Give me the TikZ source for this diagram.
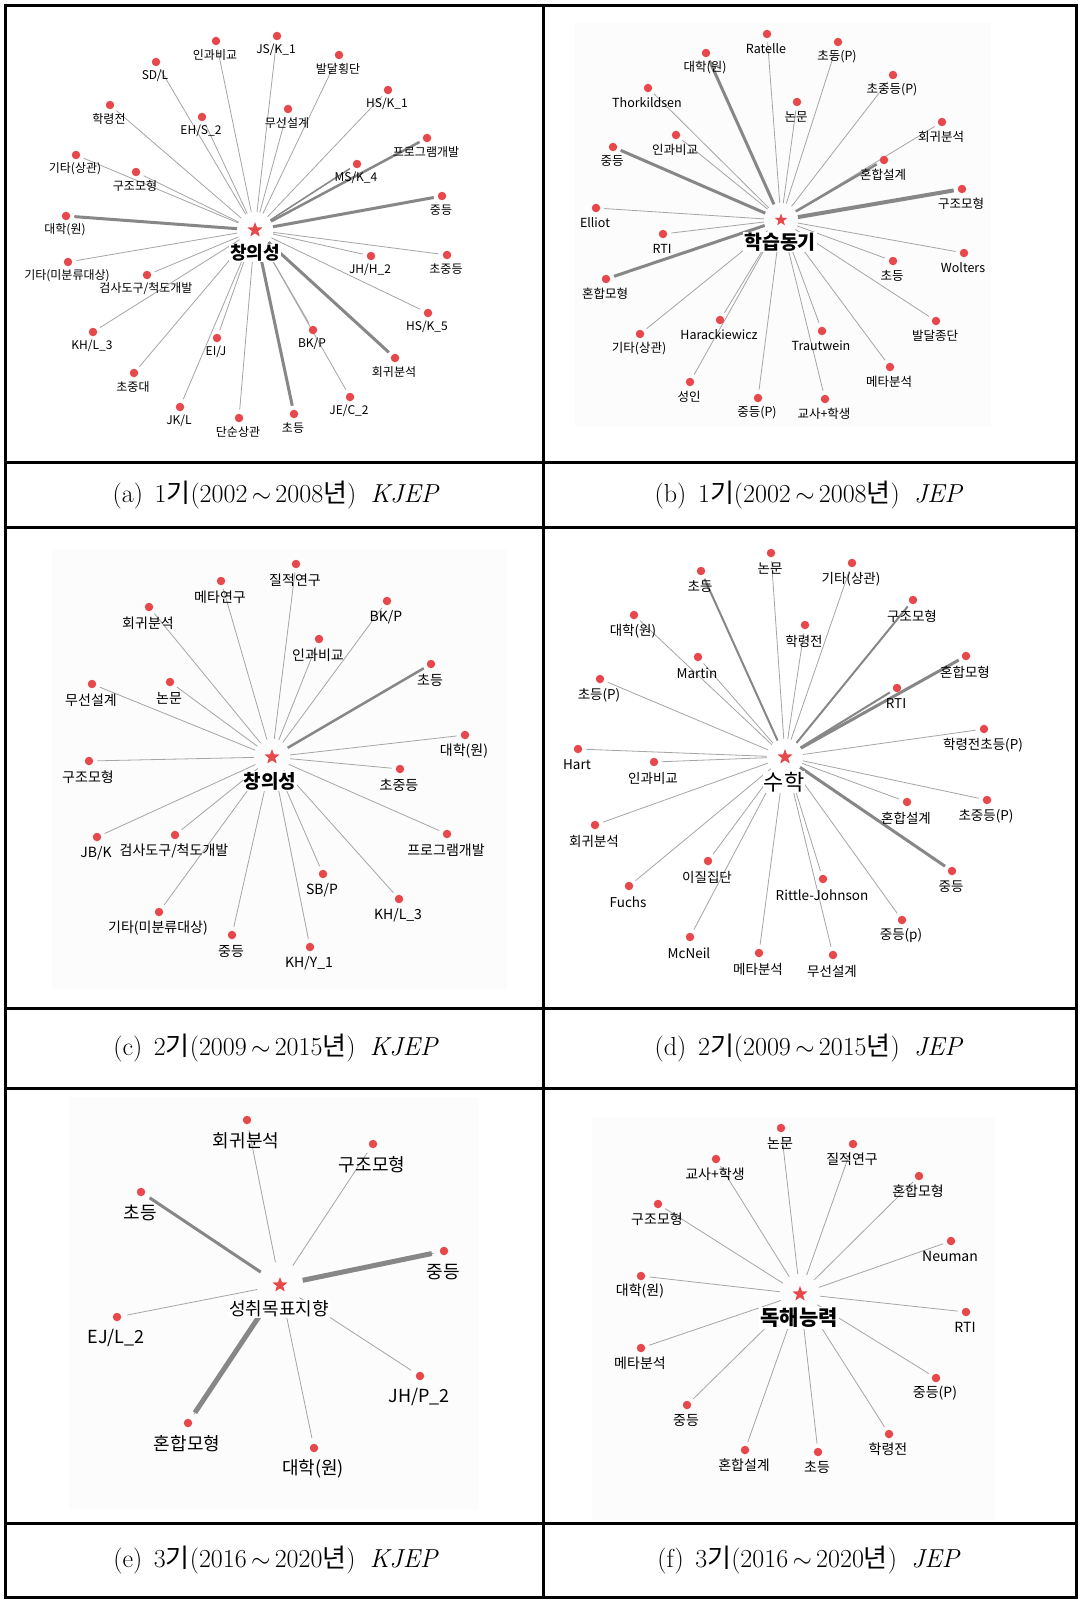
\documentclass[tikz,border=0pt]{standalone}
\usepackage{fontspec}
\newfontfamily\kr{Noto Sans CJK KR}
\usetikzlibrary{shapes.geometric,calc}
\definecolor{dotred}{RGB}{230,72,76}
\definecolor{edgegray}{RGB}{165,165,165}
\definecolor{heavygray}{RGB}{135,135,135}
\definecolor{panelbg}{RGB}{252,252,252}
\pgfdeclarelayer{panels}
\pgfdeclarelayer{edges}
\pgfsetlayers{panels,edges,main}

\tikzset{
  leafdot/.style={circle, fill=dotred, minimum size=8.5pt, inner sep=0pt},
  hubstar/.style={star, star points=5, star point ratio=2.4, fill=dotred, minimum size=16pt, inner sep=0pt},
  hubc/.style={circle, minimum size=#1, inner sep=0pt},
  hubc/.default=36pt,
  lbl/.style={font=\kr\fontsize{12}{14}\selectfont, inner sep=0pt},
  ctr/.style={font=\kr\bfseries\fontsize{18}{20}\selectfont, fill=white, inner sep=1pt},
  lnk/.style={draw=edgegray, line width=0.8pt, shorten >=4pt},
  hvy/.style={draw=heavygray, line width=#1, shorten >=4pt},
  gridline/.style={line width=3pt},
  capfont/.style={font=\fontsize{26}{28}\selectfont},
}
% leaf node: name, x, y, text
\newcommand\leaf[4]{%
  \node[leafdot] (#1) at (#2,#3) {};
  \node[lbl] (#1t) at (#2-1,#3+\labdy) {#4};}
% caption text: letter, period digit, years, journal
\newcommand\captext[4]{(#1)\hspace{0.45em}#2{\kr 기}(#3{\kr 년})\hspace{0.55em}\textit{#4}}

\begin{document}
\begin{tikzpicture}[x=1pt,y=-1pt]
\useasboundingbox (0,0) rectangle (1080,1600);

% page and faint plot backgrounds
\begin{pgfonlayer}{panels}
  \fill[white] (0,0) rectangle (1080,1600);
  \fill[panelbg] (575,23) rectangle (991,427);
  \fill[panelbg] (52,550) rectangle (507,990);
  \fill[panelbg] (69,1097) rectangle (479,1510);
  \fill[panelbg] (592,1117) rectangle (995,1520);
\end{pgfonlayer}

% ---------- (a) ----------
\begin{scope}
\def\labdy{14}
\node[hubc] (a0) at (255,230) {};
\node[hubstar] (a0s) at (255,230) {};
\node[ctr] (a0t) at (255,253) {창의성};
\leaf{a1}{216}{41}{인과비교}
\leaf{a2}{277}{36}{JS/K\_1}
\leaf{a3}{156}{62}{SD/L}
\leaf{a4}{339}{55}{발달횡단}
\leaf{a5}{388}{90}{HS/K\_1}
\leaf{a6}{110}{105}{학령전}
\leaf{a7}{202}{117}{EH/S\_2}
\leaf{a8}{288}{109}{무선설계}
\leaf{a9}{427}{138}{프로그램개발}
\leaf{a10}{76}{155}{기타(상관)}
\leaf{a11}{136}{172}{구조모형}
\leaf{a12}{357}{164}{MS/K\_4}
\leaf{a13}{442}{196}{중등}
\leaf{a14}{66}{216}{대학(원)}
\leaf{a15}{68}{262}{기타(미분류대상)}
\leaf{a16}{147}{275}{검사도구/척도개발}
\leaf{a17}{371}{256}{JH/H\_2}
\leaf{a18}{447}{255}{초중등}
\leaf{a19}{428}{313}{HS/K\_5}
\leaf{a20}{93}{332}{KH/L\_3}
\leaf{a21}{313}{330}{BK/P}
\leaf{a22}{217}{338}{EI/J}
\leaf{a23}{395}{358}{회귀분석}
\leaf{a24}{134}{373}{초중대}
\leaf{a25}{350}{397}{JE/C\_2}
\leaf{a26}{180}{407}{JK/L}
\leaf{a27}{239}{418}{단순상관}
\leaf{a28}{294}{414}{초등}
\begin{pgfonlayer}{edges}
  \foreach \i in {1,...,28} \draw[lnk] (a0) -- (a\i);
  \draw[hvy=3pt] (a0) -- (a14);
  \draw[hvy=3pt] (a0) -- (a13);
  \draw[hvy=2.5pt] (a0) -- (a9);
  \draw[hvy=1.5pt] (a0) -- (a12);
  \draw[hvy=3pt] (a0) -- (a28);
  \draw[hvy=3pt] (a0) -- (a23);
\end{pgfonlayer}
\end{scope}

% ---------- (b) ----------
\begin{scope}[lbl/.style={font=\kr\fontsize{12.5}{14}\selectfont, inner sep=0pt}]
\def\labdy{14.5}
\node[hubc=34pt] (b0) at (781,220) {};
\node[hubstar, minimum size=13pt] (b0s) at (781,220) {};
\node[ctr, font=\kr\bfseries\fontsize{19.5}{22}\selectfont] (b0t) at (780,242) {학습동기};
\leaf{b1}{767}{34}{Ratelle}
\leaf{b2}{838}{42}{초등(P)}
\leaf{b3}{706}{53}{대학(원)}
\leaf{b4}{893}{75}{초중등(P)}
\leaf{b5}{648}{88}{Thorkildsen}
\leaf{b6}{797}{102}{논문}
\leaf{b7}{942}{122}{회귀분석}
\leaf{b8}{676}{135}{인과비교}
\leaf{b9}{613}{147}{중등}
\leaf{b10}{884}{160}{혼합설계}
\leaf{b11}{962}{189}{구조모형}
\leaf{b12}{596}{208}{Elliot}
\leaf{b13}{663}{234}{RTI}
\leaf{b14}{606}{279}{혼합모형}
\leaf{b15}{964}{253}{Wolters}
\leaf{b16}{893}{261}{초등}
\leaf{b17}{936}{321}{발달종단}
\leaf{b18}{640}{334}{기타(상관)}
\leaf{b19}{720}{320}{Harackiewicz}
\leaf{b20}{822}{331}{Trautwein}
\leaf{b21}{890}{367}{메타분석}
\leaf{b22}{690}{382}{성인}
\leaf{b23}{758}{398}{중등(P)}
\leaf{b24}{825}{399}{교사+학생}
\begin{pgfonlayer}{edges}
  \foreach \i in {1,...,24} \draw[lnk] (b0) -- (b\i);
  \draw[hvy=4pt] (b0) -- (b11);
  \draw[hvy=3pt] (b0) -- (b3);
  \draw[hvy=3pt] (b0) -- (b9);
  \draw[hvy=3pt] (b0) -- (b14);
  \draw[hvy=2.5pt] (b0) -- (b10);
\end{pgfonlayer}
\end{scope}

% ---------- (c) ----------
\begin{scope}[lbl/.style={font=\kr\fontsize{14}{16}\selectfont, inner sep=0pt}]
\def\labdy{16}
\node[hubc] (c0) at (272,757) {};
\node[hubstar] (c0s) at (272,757) {};
\node[ctr, font=\kr\bfseries\fontsize{19}{22}\selectfont] (c0t) at (270,781) {창의성};
\leaf{c1}{296}{564}{질적연구}
\leaf{c2}{221}{581}{메타연구}
\leaf{c3}{149}{607}{회귀분석}
\leaf{c4}{387}{601}{BK/P}
\leaf{c5}{319}{639}{인과비교}
\leaf{c6}{431}{664}{초등}
\leaf{c7}{92}{684}{무선설계}
\leaf{c8}{170}{682}{논문}
\leaf{c9}{89}{761}{구조모형}
\leaf{c10}{465}{735}{대학(원)}
\leaf{c11}{400}{769}{초중등}
\leaf{c12}{97}{837}{JB/K}
\leaf{c13}{175}{835}{검사도구/척도개발}
\leaf{c14}{447}{834}{프로그램개발}
\leaf{c15}{323}{874}{SB/P}
\leaf{c16}{399}{899}{KH/L\_3}
\leaf{c17}{159}{912}{기타(미분류대상)}
\leaf{c18}{232}{935}{중등}
\leaf{c19}{310}{947}{KH/Y\_1}
\begin{pgfonlayer}{edges}
  \foreach \i in {1,...,19} \draw[lnk] (c0) -- (c\i);
  \draw[hvy=2.5pt] (c0) -- (c6);
\end{pgfonlayer}
\end{scope}

% ---------- (d) ----------
\begin{scope}[lbl/.style={font=\kr\fontsize{13.5}{16}\selectfont, inner sep=0pt}]
\def\labdy{16}
\node[hubc] (d0) at (785,757) {};
\node[hubstar] (d0s) at (785,757) {};
\node[ctr, font=\kr\fontsize{22}{24}\selectfont] (d0t) at (784,782) {수학};
\leaf{d1}{771}{553}{논문}
\leaf{d2}{701}{571}{초등}
\leaf{d3}{852}{563}{기타(상관)}
\leaf{d4}{913}{600}{구조모형}
\leaf{d5}{634}{615}{대학(원)}
\leaf{d6}{805}{625}{학령전}
\leaf{d7}{698}{657}{Martin}
\leaf{d8}{966}{656}{혼합모형}
\leaf{d9}{600}{679}{초등(P)}
\leaf{d10}{897}{688}{RTI}
\leaf{d11}{984}{729}{학령전초등(P)}
\leaf{d12}{578}{749}{Hart}
\leaf{d13}{654}{762}{인과비교}
\leaf{d14}{907}{802}{혼합설계}
\leaf{d15}{987}{800}{초중등(P)}
\leaf{d16}{595}{825}{회귀분석}
\leaf{d17}{708}{861}{이질집단}
\leaf{d18}{952}{871}{중등}
\leaf{d19}{823}{879}{Rittle-Johnson}
\leaf{d20}{629}{886}{Fuchs}
\leaf{d21}{902}{920}{중등(p)}
\leaf{d22}{690}{937}{McNeil}
\leaf{d23}{759}{953}{메타분석}
\leaf{d24}{833}{955}{무선설계}
\begin{pgfonlayer}{edges}
  \foreach \i in {1,...,24} \draw[lnk] (d0) -- (d\i);
  \draw[hvy=2pt] (d0) -- (d2);
  \draw[hvy=2pt] (d0) -- (d4);
  \draw[hvy=3pt] (d0) -- (d8);
  \draw[hvy=2pt] (d0) -- (d10);
  \draw[hvy=3pt] (d0) -- (d18);
\end{pgfonlayer}
\end{scope}

% ---------- (e) ----------
\begin{scope}[lbl/.style={font=\kr\fontsize{18}{20}\selectfont, inner sep=0pt}]
\def\labdy{21}
\node[hubc=46pt] (e0) at (280,1285) {};
\node[hubstar] (e0s) at (280,1285) {};
\node[ctr, font=\kr\fontsize{18}{20}\selectfont] (e0t) at (279,1309) {성취목표지향};
\leaf{e1}{247}{1120}{회귀분석}
\leaf{e2}{373}{1144}{구조모형}
\leaf{e3}{141}{1192}{초등}
\leaf{e4}{444}{1251}{중등}
\leaf{e5}{117}{1317}{EJ/L\_2}
\leaf{e6}{420}{1376}{JH/P\_2}
\leaf{e7}{188}{1423}{혼합모형}
\leaf{e8}{314}{1448}{대학(원)}
\begin{pgfonlayer}{edges}
  \foreach \i in {1,...,8} \draw[lnk, shorten >=6pt] (e0) -- (e\i);
  \draw[hvy=3pt, shorten >=6pt] (e0) -- (e3);
  \draw[hvy=5pt, shorten >=8pt] (e0) -- (e4);
  \draw[hvy=5pt, shorten >=8pt] (e0) -- (e7);
\end{pgfonlayer}
\end{scope}

% ---------- (f) ----------
\begin{scope}[lbl/.style={font=\kr\fontsize{14}{16}\selectfont, inner sep=0pt}]
\def\labdy{15}
\node[hubc=40pt] (f0) at (800,1294) {};
\node[hubstar] (f0s) at (800,1294) {};
\node[ctr, font=\kr\bfseries\fontsize{21}{24}\selectfont] (f0t) at (799,1318) {독해능력};
\leaf{f1}{781}{1128}{논문}
\leaf{f2}{853}{1144}{질적연구}
\leaf{f3}{716}{1159}{교사+학생}
\leaf{f4}{919}{1176}{혼합모형}
\leaf{f5}{658}{1204}{구조모형}
\leaf{f6}{951}{1241}{Neuman}
\leaf{f7}{641}{1276}{대학(원)}
\leaf{f8}{966}{1312}{RTI}
\leaf{f9}{641}{1348}{메타분석}
\leaf{f10}{936}{1378}{중등(P)}
\leaf{f11}{687}{1405}{중등}
\leaf{f12}{889}{1434}{학령전}
\leaf{f13}{745}{1450}{혼합설계}
\leaf{f14}{818}{1452}{초등}
\begin{pgfonlayer}{edges}
  \foreach \i in {1,...,14} \draw[lnk] (f0) -- (f\i);
\end{pgfonlayer}
\end{scope}

% ---------- table rules ----------
\draw[gridline] (5,6) rectangle (1076,1597);
\draw[gridline] (543,6) -- (543,1597);
\foreach \yy in {462,527,1008,1088,1523} \draw[gridline] (5,\yy) -- (1076,\yy);

% ---------- captions ----------
\node[capfont] (capa) at (276,495) {\captext{a}{1}{2002\,$\sim$\,2008}{KJEP}};
\node[capfont] (capb) at (809,495) {\captext{b}{1}{2002\,$\sim$\,2008}{JEP}};
\node[capfont] (capc) at (276,1048) {\captext{c}{2}{2009\,$\sim$\,2015}{KJEP}};
\node[capfont] (capd) at (809,1048) {\captext{d}{2}{2009\,$\sim$\,2015}{JEP}};
\node[capfont] (cape) at (276,1560) {\captext{e}{3}{2016\,$\sim$\,2020}{KJEP}};
\node[capfont] (capf) at (809,1560) {\captext{f}{3}{2016\,$\sim$\,2020}{JEP}};
\end{tikzpicture}
\end{document}
